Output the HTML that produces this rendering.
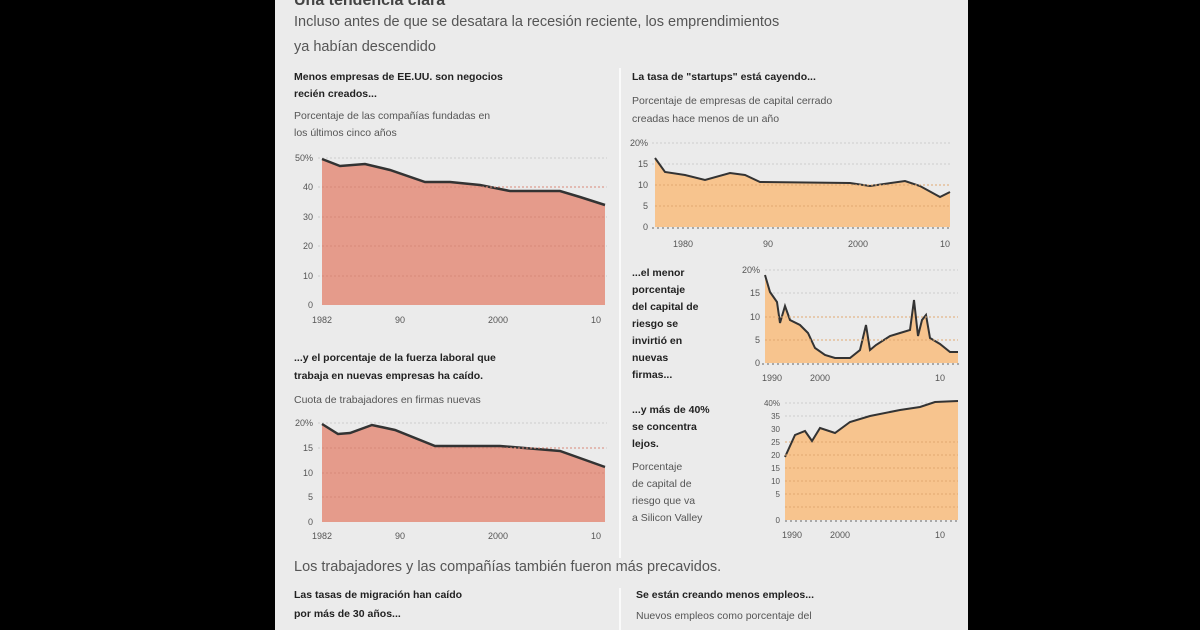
<!DOCTYPE html>
<html><head><meta charset="utf-8"><style>
html,body{margin:0;padding:0;background:#000;}
svg{display:block;}
text{font-family:"Liberation Sans",sans-serif;}
</style></head><body>
<svg width="1200" height="630" viewBox="0 0 1200 630" xmlns="http://www.w3.org/2000/svg">
<rect x="0" y="0" width="1200" height="630" fill="#000"/>
<rect x="275" y="0" width="693" height="630" fill="#ebebeb"/>
<rect x="619" y="68" width="2" height="490" fill="#fafafa"/>
<rect x="619" y="588" width="2" height="42" fill="#fafafa"/>
<text x="294" y="5" font-size="16" font-weight="bold" fill="#444">Una tendencia clara</text>
<g fill="#555" font-size="14.5">
<text x="294" y="26">Incluso antes de que se desatara la recesión reciente, los emprendimientos</text>
<text x="294" y="51">ya habían descendido</text>
<text x="294" y="571">Los trabajadores y las compañías también fueron más precavidos.</text>
</g>
<g font-size="10.5" fill="#222" font-weight="bold">
<text x="294" y="80">Menos empresas de EE.UU. son negocios</text>
<text x="294" y="97">recién creados...</text>
<text x="294" y="361">...y el porcentaje de la fuerza laboral que</text>
<text x="294" y="379">trabaja en nuevas empresas ha caído.</text>
<text x="632" y="80">La tasa de "startups" está cayendo...</text>
<text x="632" y="276">...el menor</text><text x="632" y="293">porcentaje</text><text x="632" y="310">del capital de</text><text x="632" y="327">riesgo se</text><text x="632" y="344">invirtió en</text><text x="632" y="361">nuevas</text><text x="632" y="378">firmas...</text>
<text x="632" y="413">...y más de 40%</text><text x="632" y="430">se concentra</text><text x="632" y="447">lejos.</text>
<text x="294" y="598">Las tasas de migración han caído</text>
<text x="294" y="617">por más de 30 años...</text>
<text x="636" y="598">Se están creando menos empleos...</text>
</g>
<g font-size="10.5" fill="#555">
<text x="294" y="119">Porcentaje de las compañías fundadas en</text>
<text x="294" y="136">los últimos cinco años</text>
<text x="294" y="403">Cuota de trabajadores en firmas nuevas</text>
<text x="632" y="104">Porcentaje de empresas de capital cerrado</text>
<text x="632" y="122">creadas hace menos de un año</text>
<text x="632" y="470">Porcentaje</text><text x="632" y="487">de capital de</text><text x="632" y="504">riesgo que va</text><text x="632" y="521">a Silicon Valley</text>
<text x="636" y="619">Nuevos empleos como porcentaje del</text>
</g>
<!-- chart 1 -->
<g stroke="#ccc" stroke-width="1" stroke-dasharray="2,2">
<line x1="318" x2="607" y1="158" y2="158"/><line x1="318" x2="607" y1="187" y2="187"/><line x1="318" x2="607" y1="217" y2="217"/><line x1="318" x2="607" y1="246" y2="246"/><line x1="318" x2="607" y1="276" y2="276"/>
</g>
<path d="M322,305 L322,159 L340,166 L365,164 L390,170 L425,182 L450,182 L480,185 L510,191 L540,191 L560,191 L580,197 L605,205 L605,305Z" fill="#e59b8b"/>
<path d="M322,159 L340,166 L365,164 L390,170 L425,182 L450,182 L480,185 L510,191 L540,191 L560,191 L580,197 L605,205" fill="none" stroke="#333" stroke-width="2.5"/>
<g stroke="#d88878" stroke-width="1" stroke-dasharray="2,2"><line x1="322" x2="605" y1="187" y2="187"/><line x1="322" x2="605" y1="217" y2="217"/><line x1="322" x2="605" y1="246" y2="246"/><line x1="322" x2="605" y1="276" y2="276"/></g>
<g font-size="9" fill="#555" text-anchor="end"><text x="313" y="161">50%</text><text x="313" y="190">40</text><text x="313" y="220">30</text><text x="313" y="249">20</text><text x="313" y="279">10</text><text x="313" y="308">0</text></g>
<g font-size="9" fill="#555" text-anchor="middle"><text x="322" y="323">1982</text><text x="400" y="323">90</text><text x="498" y="323">2000</text><text x="596" y="323">10</text></g>
<!-- chart 4 -->
<g stroke="#ccc" stroke-dasharray="2,2"><line x1="318" x2="607" y1="423" y2="423"/><line x1="318" x2="607" y1="448" y2="448"/></g>
<path d="M322,522 L322,424 L338,434 L350,433 L372,425 L395,430 L435,446 L500,446 L560,451 L605,467 L605,522Z" fill="#e59b8b"/>
<path d="M322,424 L338,434 L350,433 L372,425 L395,430 L435,446 L500,446 L560,451 L605,467" fill="none" stroke="#333" stroke-width="2.5"/>
<g stroke="#d88878" stroke-dasharray="2,2"><line x1="322" x2="605" y1="448" y2="448"/><line x1="322" x2="605" y1="473" y2="473"/><line x1="322" x2="605" y1="497" y2="497"/></g>
<g font-size="9" fill="#555" text-anchor="end"><text x="313" y="426">20%</text><text x="313" y="451">15</text><text x="313" y="476">10</text><text x="313" y="500">5</text><text x="313" y="525">0</text></g>
<g font-size="9" fill="#555" text-anchor="middle"><text x="322" y="539">1982</text><text x="400" y="539">90</text><text x="498" y="539">2000</text><text x="596" y="539">10</text></g>
<!-- chart 2 -->
<g stroke="#ccc" stroke-dasharray="2,2"><line x1="652" x2="952" y1="143" y2="143"/><line x1="652" x2="952" y1="164" y2="164"/></g>
<path d="M655,227 L655,158 L665,172 L685,175 L705,180 L730,173 L745,175 L760,182 L850,183 L870,186 L905,181 L920,186 L940,197 L950,192 L950,227Z" fill="#f7c48e"/>
<path d="M655,158 L665,172 L685,175 L705,180 L730,173 L745,175 L760,182 L850,183 L870,186 L905,181 L920,186 L940,197 L950,192" fill="none" stroke="#333" stroke-width="2"/>
<g stroke="#e0a870" stroke-dasharray="2,2"><line x1="655" x2="950" y1="185" y2="185"/><line x1="655" x2="950" y1="206" y2="206"/></g>
<line x1="652" x2="952" y1="228" y2="228" stroke="#666" stroke-dasharray="2,3"/>
<g font-size="9" fill="#555" text-anchor="end"><text x="648" y="146">20%</text><text x="648" y="167">15</text><text x="648" y="188">10</text><text x="648" y="209">5</text><text x="648" y="230">0</text></g>
<g font-size="9" fill="#555" text-anchor="middle"><text x="683" y="247">1980</text><text x="768" y="247">90</text><text x="858" y="247">2000</text><text x="945" y="247">10</text></g>
<!-- chart 3 -->
<g stroke="#ccc" stroke-dasharray="2,2"><line x1="765" x2="958" y1="270" y2="270"/><line x1="765" x2="958" y1="293" y2="293"/></g>
<path d="M765,363 L765,275 L770,292 L777,302 L780,323 L785,306 L790,320 L800,325 L808,333 L815,348 L825,355 L835,358 L850,358 L860,350 L866,325 L870,350 L876,345 L890,336 L900,333 L910,330 L914,300 L918,336 L922,320 L926,315 L930,338 L940,344 L950,352 L958,352 L958,363Z" fill="#f7c48e"/>
<path d="M765,275 L770,292 L777,302 L780,323 L785,306 L790,320 L800,325 L808,333 L815,348 L825,355 L835,358 L850,358 L860,350 L866,325 L870,350 L876,345 L890,336 L900,333 L910,330 L914,300 L918,336 L922,320 L926,315 L930,338 L940,344 L950,352 L958,352" fill="none" stroke="#333" stroke-width="2"/>
<g stroke="#e0a870" stroke-dasharray="2,2"><line x1="765" x2="958" y1="317" y2="317"/><line x1="765" x2="958" y1="340" y2="340"/></g>
<line x1="762" x2="960" y1="364" y2="364" stroke="#666" stroke-dasharray="2,3"/>
<g font-size="9" fill="#555" text-anchor="end"><text x="760" y="273">20%</text><text x="760" y="296">15</text><text x="760" y="320">10</text><text x="760" y="343">5</text><text x="760" y="366">0</text></g>
<g font-size="9" fill="#555" text-anchor="middle"><text x="772" y="381">1990</text><text x="820" y="381">2000</text><text x="940" y="381">10</text></g>
<!-- chart 5 -->
<g stroke="#ccc" stroke-dasharray="2,2"><line x1="785" x2="958" y1="403" y2="403"/><line x1="785" x2="958" y1="416" y2="416"/></g>
<path d="M785,520 L785,457 L795,435 L805,431 L812,441 L820,428 L835,433 L850,422 L870,416 L900,410 L920,407 L935,402 L958,401 L958,520Z" fill="#f7c48e"/>
<path d="M785,457 L795,435 L805,431 L812,441 L820,428 L835,433 L850,422 L870,416 L900,410 L920,407 L935,402 L958,401" fill="none" stroke="#333" stroke-width="2"/>
<g stroke="#e0a870" stroke-dasharray="2,2"><line x1="785" x2="958" y1="442" y2="442"/><line x1="785" x2="958" y1="455" y2="455"/><line x1="785" x2="958" y1="468" y2="468"/><line x1="785" x2="958" y1="481" y2="481"/><line x1="785" x2="958" y1="494" y2="494"/><line x1="785" x2="958" y1="507" y2="507"/></g>
<line x1="785" x2="960" y1="521" y2="521" stroke="#666" stroke-dasharray="2,3"/>
<g font-size="8" fill="#555" text-anchor="end"><text x="780" y="406">40%</text><text x="780" y="419">35</text><text x="780" y="432">30</text><text x="780" y="445">25</text><text x="780" y="458">20</text><text x="780" y="471">15</text><text x="780" y="484">10</text><text x="780" y="497">5</text><text x="780" y="523">0</text></g>
<g font-size="9" fill="#555" text-anchor="middle"><text x="792" y="538">1990</text><text x="840" y="538">2000</text><text x="940" y="538">10</text></g>
</svg>
</body></html>
